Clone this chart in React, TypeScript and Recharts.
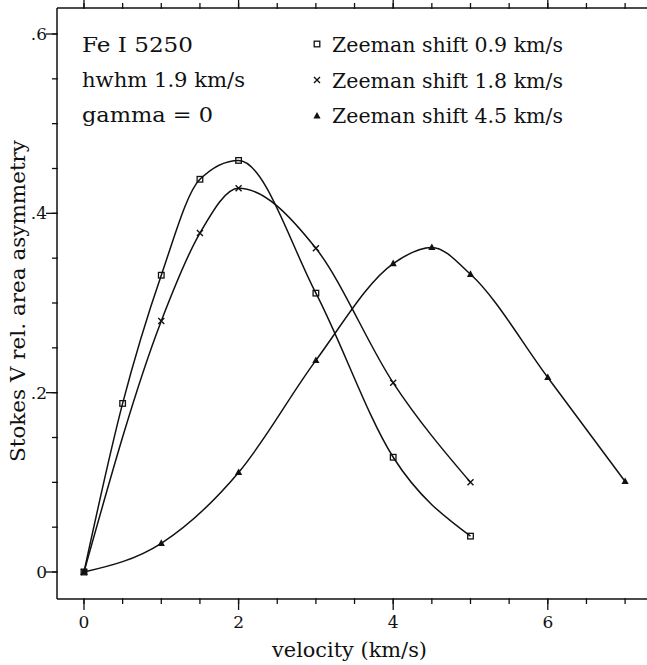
import { LineChart, Line, XAxis, YAxis } from "recharts";

// velocities (km/s) and Stokes V relative area asymmetry for each Zeeman shift
const shift09 = [
  { x: 0, y: 0 },
  { x: 0.5, y: 0.188 },
  { x: 1, y: 0.331 },
  { x: 1.5, y: 0.438 },
  { x: 2, y: 0.459 },
  { x: 3, y: 0.311 },
  { x: 4, y: 0.128 },
  { x: 5, y: 0.04 },
];

const shift18 = [
  { x: 0, y: 0 },
  { x: 1, y: 0.28 },
  { x: 1.5, y: 0.378 },
  { x: 2, y: 0.428 },
  { x: 3, y: 0.361 },
  { x: 4, y: 0.211 },
  { x: 5, y: 0.1 },
];

const shift45 = [
  { x: 0, y: 0 },
  { x: 1, y: 0.032 },
  { x: 2, y: 0.111 },
  { x: 3, y: 0.236 },
  { x: 4, y: 0.344 },
  { x: 4.5, y: 0.362 },
  { x: 5, y: 0.332 },
  { x: 6, y: 0.217 },
  { x: 7, y: 0.101 },
];

const xTicks = [0, 0.5, 1, 1.5, 2, 2.5, 3, 3.5, 4, 4.5, 5, 5.5, 6, 6.5, 7];
const xMajor = [0, 2, 4, 6];
const yTicks = [
  0, 0.05, 0.1, 0.15, 0.2, 0.25, 0.3, 0.35, 0.4, 0.45, 0.5, 0.55, 0.6,
];
const yMajor = [0, 0.2, 0.4, 0.6];
const yLabels: Record<string, string> = { "0": "0", "0.2": ".2", "0.4": ".4", "0.6": ".6" };

const FONT = "'DejaVu Serif', serif";
const INK = "#111";

function BottomLabel({ x, y, payload }: any) {
  return (
    <text x={x} y={y + 29} textAnchor="middle" fontFamily={FONT} fontSize={17} fill={INK}>
      {payload.value}
    </text>
  );
}

function LeftLabel({ x, y, payload }: any) {
  return (
    <text x={x - 10} y={y + 6} textAnchor="end" fontFamily={FONT} fontSize={17} fill={INK}>
      {yLabels[String(payload.value)]}
    </text>
  );
}

const noLabel = () => <g />;

function SquareDot({ cx, cy }: any) {
  if (cx == null || cy == null) return null;
  return <rect x={cx - 2.8} y={cy - 2.8} width={5.6} height={5.6} fill="none" stroke={INK} strokeWidth={1.3} />;
}

function CrossDot({ cx, cy }: any) {
  if (cx == null || cy == null) return null;
  return (
    <path d={`M${cx - 3} ${cy - 3}L${cx + 3} ${cy + 3}M${cx - 3} ${cy + 3}L${cx + 3} ${cy - 3}`} stroke={INK} strokeWidth={1.4} />
  );
}

function TriangleDot({ cx, cy }: any) {
  if (cx == null || cy == null) return null;
  return <path d={`M${cx} ${cy - 4}L${cx + 3.6} ${cy + 2.6}L${cx - 3.6} ${cy + 2.6}Z`} fill={INK} />;
}

const axisLine = { stroke: INK, strokeWidth: 1.5 };
const tickStroke = { stroke: INK, strokeWidth: 1.3 };
const xDomain = [-0.349, 7.335];
const yDomain = [-0.0301, 0.629];

// inward tick marks: one mirrored axis for the long ticks, one for the short ones
function xTickAxis(id: string, orientation: "top" | "bottom", ticks: number[], size: number, line: boolean) {
  return (
    <XAxis
      key={id}
      xAxisId={id}
      orientation={orientation}
      mirror
      type="number"
      dataKey="x"
      domain={xDomain}
      ticks={ticks}
      interval={0}
      tick={noLabel}
      tickSize={-size}
      tickMargin={0}
      tickLine={tickStroke}
      axisLine={line ? axisLine : false}
      height={1}
      allowDataOverflow
    />
  );
}

function yTickAxis(id: string, orientation: "left" | "right", ticks: number[], size: number, line: boolean) {
  return (
    <YAxis
      key={id}
      yAxisId={id}
      orientation={orientation}
      mirror
      type="number"
      dataKey="y"
      domain={yDomain}
      ticks={ticks}
      interval={0}
      tick={noLabel}
      tickSize={-size}
      tickMargin={0}
      tickLine={tickStroke}
      axisLine={line ? axisLine : false}
      width={1}
      allowDataOverflow
    />
  );
}

export default function App() {
  return (
    <div
      style={{
        position: "absolute",
        left: 0,
        top: 0,
        width: 647,
        height: 665,
        overflow: "hidden",
        background: "#fff",
      }}
    >
      <LineChart width={660} height={665} margin={{ top: 8, right: 9, bottom: 65, left: 56 }}>
        <XAxis
          xAxisId="b"
          type="number"
          dataKey="x"
          domain={xDomain}
          ticks={xMajor}
          interval={0}
          tick={<BottomLabel />}
          tickSize={0}
          tickMargin={0}
          tickLine={false}
          axisLine={axisLine}
          height={1}
          allowDataOverflow
        />
        <YAxis
          yAxisId="l"
          type="number"
          dataKey="y"
          domain={yDomain}
          ticks={yMajor}
          interval={0}
          tick={<LeftLabel />}
          tickSize={0}
          tickMargin={0}
          tickLine={false}
          axisLine={axisLine}
          width={1}
          allowDataOverflow
        />
        {xTickAxis("bM", "bottom", xMajor, 11, false)}
        {xTickAxis("bm", "bottom", xTicks, 6, false)}
        {xTickAxis("tM", "top", xMajor, 11, true)}
        {xTickAxis("tm", "top", xTicks, 6, false)}
        {yTickAxis("lM", "left", yMajor, 11, false)}
        {yTickAxis("lm", "left", yTicks, 6, false)}
        {yTickAxis("rM", "right", yMajor, 11, true)}
        {yTickAxis("rm", "right", yTicks, 6, false)}
        <Line
          xAxisId="b"
          yAxisId="l"
          data={shift09}
          dataKey="y"
          type="monotone"
          stroke={INK}
          strokeWidth={1.5}
          dot={<SquareDot />}
          isAnimationActive={false}
        />
        <Line
          xAxisId="b"
          yAxisId="l"
          data={shift18}
          dataKey="y"
          type="monotone"
          stroke={INK}
          strokeWidth={1.5}
          dot={<CrossDot />}
          isAnimationActive={false}
        />
        <Line
          xAxisId="b"
          yAxisId="l"
          data={shift45}
          dataKey="y"
          type="monotone"
          stroke={INK}
          strokeWidth={1.5}
          dot={<TriangleDot />}
          isAnimationActive={false}
        />
      </LineChart>
      <svg
        width={647}
        height={665}
        style={{ position: "absolute", left: 0, top: 0, pointerEvents: "none" }}
      >
        <g fontFamily={FONT} fontSize={20} fill={INK}>
          <text x={82} y={52} textLength={111} lengthAdjust="spacingAndGlyphs">Fe I 5250</text>
          <text x={82} y={87} textLength={163} lengthAdjust="spacingAndGlyphs">hwhm 1.9 km/s</text>
          <text x={82} y={122} textLength={131} lengthAdjust="spacingAndGlyphs">gamma = 0</text>
          <text x={332} y={52} textLength={231} lengthAdjust="spacingAndGlyphs">Zeeman shift 0.9 km/s</text>
          <text x={332} y={88} textLength={231} lengthAdjust="spacingAndGlyphs">Zeeman shift 1.8 km/s</text>
          <text x={332} y={123} textLength={231} lengthAdjust="spacingAndGlyphs">Zeeman shift 4.5 km/s</text>
          <text x={272} y={657} textLength={155} lengthAdjust="spacingAndGlyphs">velocity (km/s)</text>
          <text
            x={25}
            y={301}
            textAnchor="middle"
            transform="rotate(-90 25 301)"
            textLength={322}
            lengthAdjust="spacingAndGlyphs"
          >
            Stokes V rel. area asymmetry
          </text>
        </g>
        <SquareDot cx={317} cy={44} />
        <CrossDot cx={317} cy={80} />
        <TriangleDot cx={317} cy={116} />
      </svg>
    </div>
  );
}
